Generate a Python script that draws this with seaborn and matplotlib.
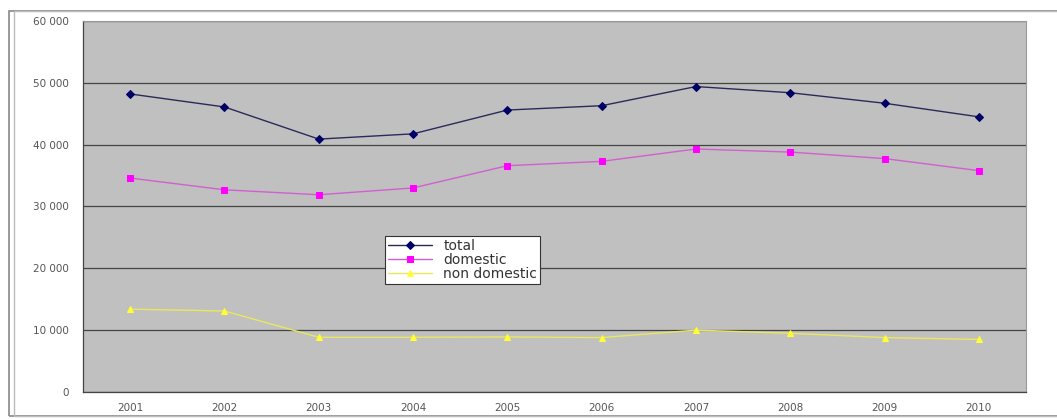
import matplotlib
matplotlib.use("Agg")
import matplotlib.pyplot as plt
import matplotlib.ticker as mticker
from matplotlib.patches import Rectangle
import seaborn as sns
import pandas as pd

years = ["2001", "2002", "2003", "2004", "2005", "2006", "2007", "2008", "2009", "2010"]
total = [48200, 46100, 40900, 41750, 45600, 46300, 49400, 48400, 46700, 44500]
domestic = [34600, 32700, 31900, 33000, 36600, 37300, 39300, 38800, 37750, 35800]
non_domestic = [13400, 13100, 8850, 8850, 8900, 8800, 10000, 9500, 8800, 8500]
series_names = ["total", "domestic", "non domestic"]
y_ticks = [0, 10000, 20000, 30000, 40000, 50000, 60000]

df = pd.DataFrame({
    "year": years * 3,
    "value": total + domestic + non_domestic,
    "series": [series_names[0]] * len(years)
    + [series_names[1]] * len(years)
    + [series_names[2]] * len(years),
})
df["pos"] = df["year"].map({y: i for i, y in enumerate(years)})

sns.set_theme(style="white")
plt.rcParams["font.family"] = ["DejaVu Sans"]

fig = plt.figure(figsize=(10.57, 4.19), dpi=100)
ax = fig.add_axes([83 / 1057, 1 - 392 / 419, (1026 - 83) / 1057, (392 - 21) / 419])

# outer double frame of the chart object
fig.patches.append(Rectangle((9 / 1057, 3 / 419), 1.2, 1 - 14 / 419,
                             transform=fig.transFigure, fill=False,
                             edgecolor="#888888", linewidth=1.2))
fig.patches.append(Rectangle((14 / 1057, 3 / 419), 1.2, 1 - 14 / 419,
                             transform=fig.transFigure, fill=False,
                             edgecolor="#bbbbbb", linewidth=1.0))

ax.set_facecolor("#c0c0c0")

palette = {"total": "#000066", "domestic": "#ff00ff", "non domestic": "#ffff33"}
line_colors = {"total": "#2a2a5a", "domestic": "#d060d0", "non domestic": "#e8e860"}
markers = {"total": "D", "domestic": "s", "non domestic": "^"}

for name in series_names:
    sub = df[df["series"] == name]
    sns.lineplot(data=sub, x="pos", y="value", ax=ax, color=line_colors[name],
                 linewidth=1.0, marker=markers[name], markersize=4.5,
                 markerfacecolor=palette[name], markeredgecolor=palette[name],
                 label=name, legend=False)

ax.set_xlim(-0.5, len(years) - 0.5)
ax.set_ylim(0, 60000)
ax.set_yticks(y_ticks)
ax.yaxis.set_major_formatter(mticker.FuncFormatter(
    lambda v, p: "0" if v == 0 else f"{int(v):,}".replace(",", " ")))
ax.set_xticks(range(len(years)))
ax.set_xticklabels(years)
ax.set_xticks([i - 0.5 for i in range(len(years) + 1)], minor=True)
ax.tick_params(axis="x", which="major", length=0, pad=8, labelsize=7.5, labelcolor="#555555")
ax.tick_params(axis="x", which="minor", length=4, width=0.8, color="#444444", direction="out")
ax.tick_params(axis="y", which="major", length=4, width=0.8, color="#444444",
               direction="out", labelsize=7.5, labelcolor="#555555", pad=6)
ax.grid(axis="y", color="#444444", linewidth=0.9)
ax.set_axisbelow(True)
ax.set_xlabel("")
ax.set_ylabel("")
for side in ["left", "bottom"]:
    ax.spines[side].set_color("#444444")
    ax.spines[side].set_linewidth(0.9)
for side in ["top", "right"]:
    ax.spines[side].set_color("#999999")
    ax.spines[side].set_linewidth(0.8)

handles, labels = ax.get_legend_handles_labels()
leg = ax.legend(handles, labels, loc="upper left",
                bbox_to_anchor=((385 - 83) / (1026 - 83), (392 - 236) / (392 - 21)),
                borderaxespad=0, frameon=True, fancybox=False, fontsize=10,
                handlelength=3.2, borderpad=0.2, labelspacing=0.0, handletextpad=0.8)
leg.get_frame().set_facecolor("white")
leg.get_frame().set_alpha(1)
leg.get_frame().set_edgecolor("#333333")
leg.get_frame().set_linewidth(0.8)
for t in leg.get_texts():
    t.set_color("#333333")

fig.savefig("out.png", dpi=100)
